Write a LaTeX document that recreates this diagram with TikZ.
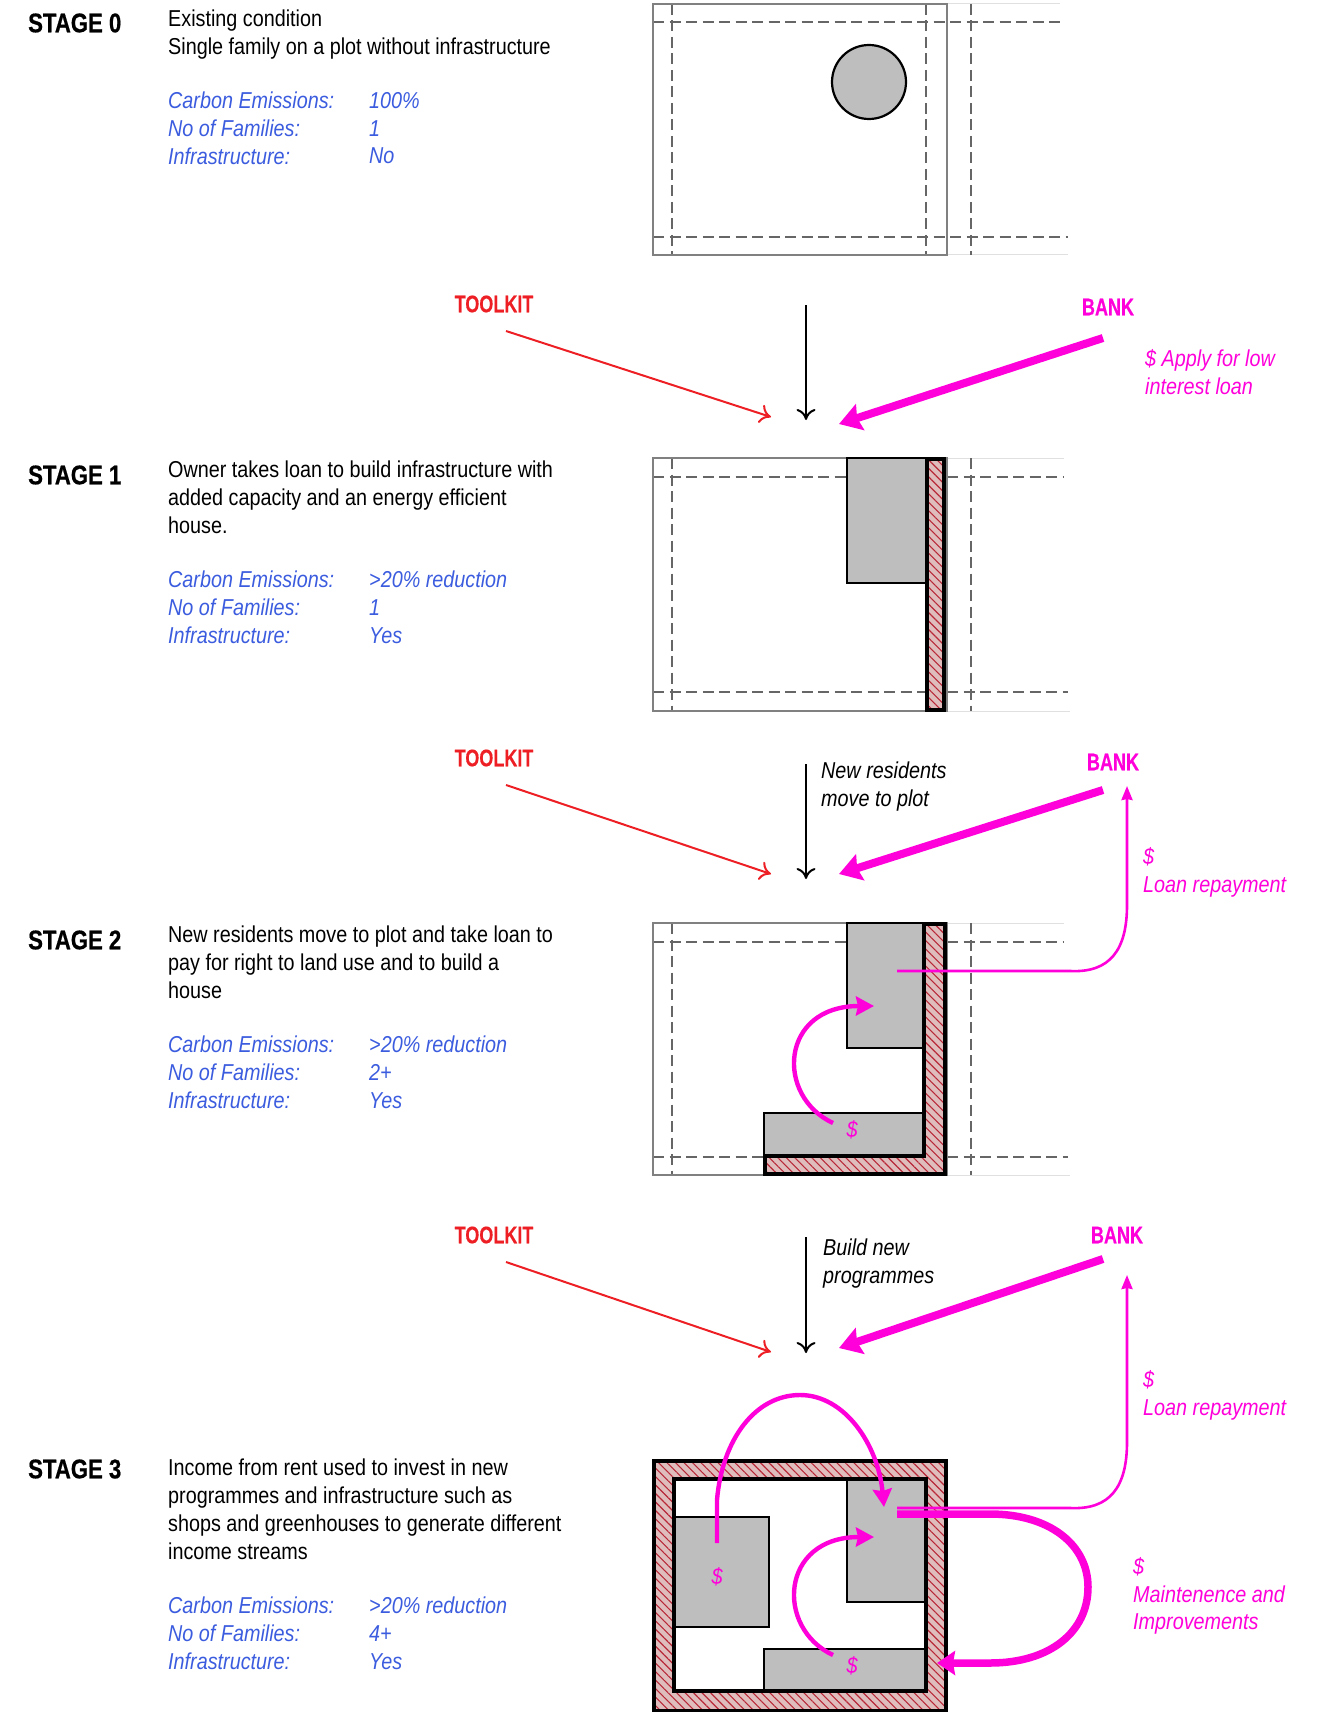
\documentclass[tikz,border=0pt]{standalone}
\usepackage{fontspec}
\setmainfont{Liberation Sans}[FakeStretch=0.86]
\newfontfamily\stagefont{Liberation Sans}[UprightFont={* Bold},FakeStretch=0.82,FakeBold=0.6]
\newfontfamily\headfont{Liberation Sans}[UprightFont={* Bold},FakeStretch=0.75,FakeBold=0.3]
\usetikzlibrary{arrows.meta,patterns.meta}
\definecolor{bluetext}{rgb}{0.23,0.36,0.87}
\definecolor{toolred}{rgb}{0.93,0.12,0.14}
\definecolor{bankpink}{rgb}{1.0,0.0,0.86}
\definecolor{hatchbg}{rgb}{0.88,0.74,0.74}
\definecolor{hatchline}{rgb}{0.72,0.16,0.22}
\definecolor{buildgray}{rgb}{0.745,0.745,0.745}
\tikzset{
  stagelabel/.style={anchor=west,inner sep=0pt,font=\fontsize{27}{30}\stagefont},
  bodytext/.style={anchor=north west,inner sep=0pt,align=left,font=\fontsize{23}{27.8}\selectfont,execute at begin node=\strut},
  datatext/.style={bodytext,text=bluetext,font=\fontsize{23}{27.8}\selectfont\itshape},
  moneytext/.style={bodytext,text=bankpink,font=\fontsize{23}{27.8}\selectfont\itshape},
  notetext/.style={bodytext,font=\fontsize{23}{27.8}\selectfont\itshape},
  moneysign/.style={text=bankpink,inner sep=0pt,font=\fontsize{23}{27.8}\selectfont\itshape},
  toolhead/.style={anchor=center,inner sep=0pt,text=toolred,font=\fontsize{24}{28}\headfont},
  bankhead/.style={anchor=center,inner sep=0pt,text=bankpink,font=\fontsize{24}{28}\headfont},
  plotframe/.style={draw=gray,line width=2.4pt},
  setback/.style={draw=black!60,line width=1.5pt,dash pattern=on 11pt off 5.5pt},
  faint/.style={draw=black!12,line width=1pt},
  building/.style={draw=black,fill=buildgray,line width=2.2pt},
  hatched/.style={draw=black,line width=3.2pt,preaction={fill=hatchbg},
    pattern={Lines[angle=-45,distance=6pt,line width=1.1pt]},pattern color=hatchline},
  blackarrow/.style={draw=black,line width=2pt,-{To[length=11pt,width=19pt,line width=2pt]}},
  redarrow/.style={draw=toolred,line width=2pt,-{To[length=11pt,width=19pt,line width=2pt]}},
  thickpink/.style={draw=bankpink,line width=8pt,-{Stealth[length=22pt,width=27pt,inset=3pt]}},
  loanline/.style={draw=bankpink,line width=2.6pt,-{Stealth[length=14pt,width=11pt,inset=1pt]}},
  movearrow/.style={draw=bankpink,line width=4.4pt,-{Stealth[length=18pt,width=19pt,inset=2pt]}},
  loopline/.style={draw=bankpink,line width=7.5pt,-{Stealth[length=18pt,width=24pt,inset=2pt]}}
}

\begin{document}
\begin{tikzpicture}[x=1pt,y=-1pt,line join=miter]
\useasboundingbox (0,0) rectangle (1317,1712);

% Stage 0: text
\node[stagelabel] (stage0) at (28,23) {STAGE 0};
\node[bodytext] (text0) at (168,10) {Existing condition\\Single family on a plot without infrastructure};
\node[datatext] (data0) at (168,92) {Carbon Emissions:\\No of Families:\\Infrastructure:};
\node[datatext] (value0) at (369,92) {100\%\\1\\No};

% Stage 0: plot
\draw[faint] (947,4) -- (1060,4);
\draw[faint] (947,255) -- (1068,255);
\draw[setback] (653,22) -- (1060,22);
\draw[setback] (653,237) -- (1068,237);
\foreach \x in {672,926,971} \draw[setback] (\x,4) -- (\x,255);
\draw[plotframe] (653,4) rectangle (947,255);
\draw[building] (869,82) circle (37);

% Edge: toolkit, bank, plan -> stage 1
\node[toolhead] (toolkit1) at (494,304) {TOOLKIT};
\node[bankhead] (bank1) at (1108,307) {BANK};
\node[moneytext] (apply1) at (1145,349) {\$ Apply for low\\interest loan};
\coordinate (redA1) at (506,331);
\coordinate (redB1) at (771,417);
\coordinate (blackA1) at (806,305);
\coordinate (blackB1) at (806,420);
\coordinate (pinkA1) at (1103,338);
\coordinate (pinkB1) at (839,424);
\draw[redarrow] (redA1) -- (redB1);
\draw[blackarrow] (blackA1) -- (blackB1);
\draw[thickpink] (pinkA1) -- (pinkB1);

% Stage 1: text
\node[stagelabel] (stage1) at (28,475) {STAGE 1};
\node[bodytext] (text1) at (168,461) {Owner takes loan to build infrastructure with\\added capacity and an energy efficient\\house.};
\node[datatext] (data1) at (168,571) {Carbon Emissions:\\No of Families:\\Infrastructure:};
\node[datatext] (value1) at (369,571) {>20\% reduction\\1\\Yes};

% Stage 1: plot
\draw[faint] (947,458) -- (1064,458);
\draw[faint] (947,711) -- (1070,711);
\draw[setback] (653,477) -- (847,477);
\draw[setback] (947,477) -- (1064,477);
\draw[setback] (653,692) -- (926,692);
\draw[setback] (947,692) -- (1068,692);
\foreach \x in {672,971} \draw[setback] (\x,458) -- (\x,711);
\draw[plotframe] (653,458) rectangle (947,711);
\draw[building] (847,458) rectangle (926,583);
\draw[hatched] (927,459) rectangle (944,710);

% Edge: toolkit, residents, bank -> stage 2
\node[toolhead] (toolkit2) at (494,758) {TOOLKIT};
\node[bankhead] (bank2) at (1113,762) {BANK};
\node[notetext] (move2) at (821,762) {New residents\\move to plot};
\coordinate (redA2) at (506,785);
\coordinate (redB2) at (771,874);
\coordinate (blackA2) at (806,764);
\coordinate (blackB2) at (806,879);
\coordinate (pinkA2) at (1103,790);
\coordinate (pinkB2) at (839,874);
\draw[redarrow] (redA2) -- (redB2);
\draw[blackarrow] (blackA2) -- (blackB2);
\draw[thickpink] (pinkA2) -- (pinkB2);

% Stage 2: text
\node[stagelabel] (stage2) at (28,940) {STAGE 2};
\node[bodytext] (text2) at (168,926) {New residents move to plot and take loan to\\pay for right to land use and to build a\\house};
\node[datatext] (data2) at (168,1036) {Carbon Emissions:\\No of Families:\\Infrastructure:};
\node[datatext] (value2) at (369,1036) {>20\% reduction\\2+\\Yes};

% Stage 2: plot
\draw[faint] (947,923) -- (1064,923);
\draw[faint] (947,1175) -- (1070,1175);
\draw[setback] (653,942) -- (847,942);
\draw[setback] (947,942) -- (1064,942);
\draw[setback] (653,1157) -- (764,1157);
\draw[setback] (947,1157) -- (1068,1157);
\foreach \x in {672,971} \draw[setback] (\x,923) -- (\x,1175);
\draw[plotframe] (653,923) rectangle (947,1175);
\draw[building] (847,923) rectangle (923,1048);
\draw[building] (764,1113) rectangle (923,1155);
\draw[hatched] (924,924) -- (945,924) -- (945,1174) -- (765,1174) -- (765,1156) -- (924,1156) -- cycle;
\node[moneysign] (money2) at (852,1130) {\$};

% Edge: stage 2 -> bank
\coordinate (moveA2) at (833,1123);
\coordinate (moveB2) at (874,1006);
\coordinate (loanA2) at (897,971);
\coordinate (loanB2) at (1127,786);
\draw[movearrow] (moveA2) .. controls (775,1096) and (780,1006) .. (moveB2);
\draw[loanline] (loanA2) -- (1070,971) .. controls (1110,973) and (1127,950) .. (1127,905) -- (loanB2);
\node[moneytext] (repay2) at (1143,847) {\$\\Loan repayment};

% Edge: toolkit, programmes, bank -> stage 3
\node[toolhead] (toolkit3) at (494,1235) {TOOLKIT};
\node[bankhead] (bank3) at (1117,1235) {BANK};
\node[notetext] (build3) at (823,1239) {Build new\\programmes};
\coordinate (redA3) at (506,1262);
\coordinate (redB3) at (771,1352);
\coordinate (blackA3) at (806,1237);
\coordinate (blackB3) at (806,1353);
\coordinate (pinkA3) at (1103,1259);
\coordinate (pinkB3) at (839,1348);
\draw[redarrow] (redA3) -- (redB3);
\draw[blackarrow] (blackA3) -- (blackB3);
\draw[thickpink] (pinkA3) -- (pinkB3);

% Stage 3: text
\node[stagelabel] (stage3) at (28,1469) {STAGE 3};
\node[bodytext] (text3) at (168,1459) {Income from rent used to invest in new\\programmes and infrastructure such as\\shops and greenhouses to generate different\\income streams};
\node[datatext] (data3) at (168,1597) {Carbon Emissions:\\No of Families:\\Infrastructure:};
\node[datatext] (value3) at (369,1597) {>20\% reduction\\4+\\Yes};

% Stage 3: plot
\draw[hatched] (654,1461) rectangle (946,1711);
\draw[draw=black,fill=white,line width=4.6pt] (674,1479) rectangle (926,1691);
\draw[building] (847,1480) rectangle (925,1602);
\draw[building] (675,1517) rectangle (769,1627);
\draw[building] (764,1649) rectangle (925,1690);
\node[moneysign] (money3a) at (717,1577) {\$};
\node[moneysign] (money3b) at (852,1666) {\$};

% Edge: stage 3 -> stage 3, bank
\coordinate (archA3) at (717,1543);
\coordinate (archB3) at (884,1507);
\coordinate (moveA3) at (833,1655);
\coordinate (moveB3) at (874,1537);
\coordinate (loanA3) at (897,1508);
\coordinate (loanB3) at (1127,1275);
\coordinate (loopA3) at (897,1514);
\coordinate (loopB3) at (937,1663);
\draw[movearrow] (archA3) -- (717,1500) .. controls (722,1440) and (755,1395) .. (800,1395) .. controls (845,1395) and (878,1445) .. (archB3);
\draw[movearrow] (moveA3) .. controls (775,1628) and (780,1537) .. (moveB3);
\draw[loanline] (loanA3) -- (1070,1508) .. controls (1110,1510) and (1127,1487) .. (1127,1442) -- (loanB3);
\draw[loopline] (loopA3) -- (990,1514) .. controls (1050,1514) and (1088,1545) .. (1088,1587) .. controls (1088,1632) and (1050,1663) .. (990,1663) -- (loopB3);
\node[moneytext] (repay3) at (1143,1370) {\$\\Loan repayment};
\node[moneytext] (repair3) at (1133,1557) {\$\\Maintenence and\\Improvements};
\end{tikzpicture}
\end{document}
